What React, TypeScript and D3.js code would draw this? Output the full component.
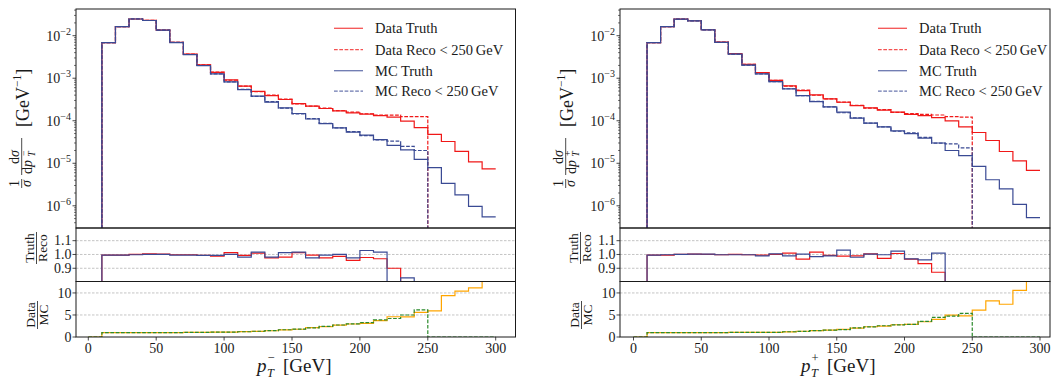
import React from 'react';
import * as d3 from 'd3';

// Bin edges (GeV): 0,10,...,300
const EDGES: number[] = d3.range(0, 301, 10);

// ---------- p_T^- (left) ----------
// truth values for bins 10-20 ... 290-300
const dataTruthMinus = [6.86e-3, 1.63e-2, 2.47e-2, 2.3e-2, 1.36e-2, 7.0e-3, 3.7e-3, 2.05e-3, 1.38e-3, 9.1e-4, 6.5e-4, 4.9e-4, 3.9e-4, 3.16e-4, 2.54e-4, 2.2e-4, 1.94e-4, 1.7e-4, 1.53e-4, 1.43e-4, 1.32e-4, 1.22e-4, 9.8e-5, 6.9e-5, 4.8e-5, 3.25e-5, 1.9e-5, 1.08e-5, 7.4e-6];
const mcTruthMinus = [6.86e-3, 1.63e-2, 2.47e-2, 2.28e-2, 1.35e-2, 6.9e-3, 3.6e-3, 1.98e-3, 1.26e-3, 8.2e-4, 5.4e-4, 3.8e-4, 2.75e-4, 2.0e-4, 1.48e-4, 1.1e-4, 8.6e-5, 6.8e-5, 5.4e-5, 4.6e-5, 3.6e-5, 2.63e-5, 2.07e-5, 1.23e-5, 7.9e-6, 3.36e-6, 1.8e-6, 9.7e-7, 5.5e-7];
// Truth / Reco ratio, bins 0-10 ... 240-250
const dataTRMinus = [0, 0.995, 0.995, 1.0, 1.005, 1.002, 0.998, 0.998, 0.993, 0.988, 1.014, 0.993, 1.01, 0.976, 0.981, 1.014, 0.995, 0.976, 0.986, 0.957, 0.978, 0.969, 0.9, 0.78, 0.55];
const mcTRMinus = [0, 0.995, 0.995, 0.998, 1.0, 1.0, 0.995, 0.995, 0.993, 0.993, 1.0, 0.981, 1.017, 0.981, 1.014, 1.017, 0.976, 0.995, 1.0, 0.976, 1.029, 1.017, 0.79, 0.831, 0.615];
// Data / MC ratio, bins 0-10 ... 290-300
const dmTruthMinus = [0, 1.0, 1.0, 1.0, 1.01, 1.01, 1.01, 1.03, 1.04, 1.09, 1.12, 1.2, 1.29, 1.42, 1.6, 1.76, 2.14, 2.37, 2.7, 2.95, 3.1, 3.7, 4.6, 4.55, 5.6, 5.95, 9.4, 10.4, 11.15, 13.5];
const dmRecoMinus = [0, 1.0, 1.0, 1.0, 1.01, 1.01, 1.01, 1.03, 1.04, 1.1, 1.1, 1.19, 1.3, 1.43, 1.65, 1.77, 2.08, 2.42, 2.73, 2.99, 3.26, 3.88, 4.2, 5.0, 6.15, 0, 0, 0, 0, 0];

// ---------- p_T^+ (right) ----------
const dataTruthPlus = [6.86e-3, 1.63e-2, 2.46e-2, 2.25e-2, 1.38e-2, 7.1e-3, 3.8e-3, 2.12e-3, 1.35e-3, 8.9e-4, 6.6e-4, 5.1e-4, 4.05e-4, 3.26e-4, 2.72e-4, 2.28e-4, 2.0e-4, 1.77e-4, 1.59e-4, 1.42e-4, 1.32e-4, 1.19e-4, 9.9e-5, 7.2e-5, 5.3e-5, 3.43e-5, 1.89e-5, 1.14e-5, 6.8e-6];
const mcTruthPlus = [6.86e-3, 1.63e-2, 2.46e-2, 2.24e-2, 1.37e-2, 7.0e-3, 3.7e-3, 2.03e-3, 1.26e-3, 8.3e-4, 5.6e-4, 3.9e-4, 2.82e-4, 2.11e-4, 1.59e-4, 1.15e-4, 8.8e-5, 7.2e-5, 5.8e-5, 5.0e-5, 3.9e-5, 3.0e-5, 2.0e-5, 1.52e-5, 8.5e-6, 4.1e-6, 2.5e-6, 1.08e-6, 5.3e-7];
const dataTRPlus = [0, 0.995, 0.995, 1.0, 1.002, 1.0, 0.998, 1.0, 0.998, 0.995, 1.0, 1.01, 0.966, 1.017, 0.993, 0.988, 0.99, 1.005, 0.971, 1.007, 0.966, 0.934, 0.871, 0.79, 0.59];
const mcTRPlus = [0, 0.995, 0.998, 1.0, 1.002, 1.002, 0.998, 0.998, 0.998, 0.99, 1.005, 0.99, 1.002, 0.985, 0.99, 1.032, 0.98, 1.002, 0.998, 1.024, 0.968, 0.961, 1.01, 0.7, 0.66];
const dmTruthPlus = [0, 1.0, 1.0, 1.0, 1.0, 1.01, 1.01, 1.03, 1.04, 1.07, 1.07, 1.18, 1.31, 1.44, 1.55, 1.73, 2.03, 2.33, 2.48, 2.78, 2.86, 3.46, 3.98, 4.96, 4.8, 6.1, 8.2, 7.44, 10.6, 12.9];
const dmRecoPlus = [0, 1.0, 1.0, 1.0, 1.0, 1.01, 1.01, 1.03, 1.04, 1.07, 1.07, 1.19, 1.27, 1.46, 1.56, 1.66, 2.05, 2.31, 2.55, 2.75, 2.87, 3.56, 4.45, 4.75, 5.35, 0, 0, 0, 0, 0];

const xTicks = [0, 50, 100, 150, 200, 250, 300];
const logTicks = [-6, -5, -4, -3, -2];
const trTicks = [0.9, 1.0, 1.1];
const dmTicks = [0, 5, 10];
const legendLabels = ['Data Truth', 'Data Reco < 250\u2009GeV', 'MC Truth', 'MC Reco < 250\u2009GeV'];

const W = 1051, H = 381;
const TOP = 9, MAIN_B = 228, R1_B = 281.5, R2_B = 337;
const FONT = '"Liberation Serif", "DejaVu Serif", serif';
const RED = '#f01818';
const BLUE = '#3a4a94';
const ORANGE = '#ffa500';
const GREEN = '#2a8a2a';
const DASH = '3.7,1.6';

type Scale = (v: number) => number;

function stepD(vals: number[], x: Scale, ymap: Scale): string {
  let d = '';
  vals.forEach((v, i) => {
    const py = ymap(v);
    d += i === 0 ? `M${x(EDGES[i])},${py}` : `V${py}`;
    d += `H${x(EDGES[i + 1])}`;
  });
  return d;
}

interface PanelProps {
  id: string;
  left: number;
  right: number;
  zero: number;
  k: number;
  sign: string;
  xlabStart: number;
  dataTruth: number[];
  mcTruth: number[];
  dataTR: number[];
  mcTR: number[];
  dmTruth: number[];
  dmReco: number[];
}

function Panel(p: PanelProps) {
  const x = d3.scaleLinear().domain([(p.left - p.zero) / p.k, (p.right - p.zero) / p.k]).range([p.left, p.right]);
  const yMain = d3.scaleLog().domain([Math.pow(10, -6.522), Math.pow(10, -1.372)]).range([MAIN_B, TOP]);
  const yR1 = d3.scaleLinear().domain([0.804, 1.192]).range([R1_B, MAIN_B]);
  const yR2 = d3.scaleLinear().domain([0, 12.6]).range([R2_B, R1_B]);
  const ymapLog = (v: number) => (v > 0 ? yMain(v) : MAIN_B + 40);

  const dataTruthVals = [0, ...p.dataTruth];
  const mcTruthVals = [0, ...p.mcTruth];
  const dataRecoVals = [0, ...p.dataTruth.slice(0, 24).map((v, i) => v / p.dataTR[i + 1]), 0];
  const mcRecoVals = [0, ...p.mcTruth.slice(0, 24).map((v, i) => v / p.mcTR[i + 1]), 0];

  const minor: number[] = [];
  for (let e = -7; e <= -2; e++) {
    for (let m = 2; m <= 9; m++) {
      const v = m * Math.pow(10, e);
      if (v > Math.pow(10, -6.522) && v < Math.pow(10, -1.372)) minor.push(v);
    }
  }

  const w = p.right - p.left;
  const tickFs = 14;

  return (
    <g fontFamily={FONT} fill="#1a1a1a">
      <defs>
        <clipPath id={`${p.id}-cm`}><rect x={p.left} y={TOP} width={w} height={MAIN_B - TOP} /></clipPath>
        <clipPath id={`${p.id}-c1`}><rect x={p.left} y={MAIN_B} width={w} height={R1_B - MAIN_B} /></clipPath>
        <clipPath id={`${p.id}-c2`}><rect x={p.left} y={R1_B} width={w} height={R2_B - R1_B} /></clipPath>
      </defs>

      {/* grid lines in ratio panels */}
      {trTicks.map((t) => (
        <line key={`g1${t}`} x1={p.left} x2={p.right} y1={yR1(t)} y2={yR1(t)} stroke="#b5b5b5" strokeWidth={0.8} strokeDasharray="2.5,1.5" />
      ))}
      {[5, 10].map((t) => (
        <line key={`g2${t}`} x1={p.left} x2={p.right} y1={yR2(t)} y2={yR2(t)} stroke="#b5b5b5" strokeWidth={0.8} strokeDasharray="2.5,1.5" />
      ))}

      {/* main panel */}
      <g clipPath={`url(#${p.id}-cm)`} fill="none" strokeWidth={1.2}>
        <path d={stepD(dataTruthVals, x, ymapLog)} stroke={RED} />
        <path d={stepD(dataRecoVals, x, ymapLog)} stroke={RED} strokeDasharray={DASH} />
        <path d={stepD(mcTruthVals, x, ymapLog)} stroke={BLUE} />
        <path d={stepD(mcRecoVals, x, ymapLog)} stroke={BLUE} strokeDasharray={DASH} />
      </g>

      {/* truth / reco */}
      <g clipPath={`url(#${p.id}-c1)`} fill="none" strokeWidth={1.2}>
        <path d={stepD(p.dataTR, x, yR1)} stroke={RED} />
        <path d={stepD(p.mcTR, x, yR1)} stroke={BLUE} />
      </g>

      {/* data / mc */}
      <g clipPath={`url(#${p.id}-c2)`} fill="none" strokeWidth={1.2}>
        <path d={stepD(p.dmTruth, x, yR2)} stroke={ORANGE} />
        <path d={stepD(p.dmReco, x, yR2)} stroke={GREEN} strokeDasharray={DASH} />
      </g>

      {/* frames */}
      <g fill="none" stroke="#1a1a1a" strokeWidth={1}>
        <rect x={p.left} y={TOP} width={w} height={MAIN_B - TOP} />
        <rect x={p.left} y={MAIN_B} width={w} height={R1_B - MAIN_B} />
        <rect x={p.left} y={R1_B} width={w} height={R2_B - R1_B} />
      </g>

      {/* log y ticks */}
      {logTicks.map((e) => {
        const yy = yMain(Math.pow(10, e));
        return (
          <g key={`lt${e}`}>
            <line x1={p.left - 3.5} x2={p.left} y1={yy} y2={yy} stroke="#1a1a1a" strokeWidth={0.8} />
            <text x={p.left - 5} y={yy + 5} textAnchor="end" fontSize={tickFs}>
              10<tspan fontSize={10} dy={-6}>{`\u2212${-e}`}</tspan>
            </text>
          </g>
        );
      })}
      {minor.map((v, i) => (
        <line key={`mn${i}`} x1={p.left - 2} x2={p.left} y1={yMain(v)} y2={yMain(v)} stroke="#1a1a1a" strokeWidth={0.6} />
      ))}

      {/* ratio y ticks */}
      {trTicks.map((t) => (
        <g key={`tt${t}`}>
          <line x1={p.left - 3.5} x2={p.left} y1={yR1(t)} y2={yR1(t)} stroke="#1a1a1a" strokeWidth={0.8} />
          <text x={p.left - 4.5} y={yR1(t) + 4.6} textAnchor="end" fontSize={tickFs}>{t.toFixed(1)}</text>
        </g>
      ))}
      {dmTicks.map((t) => (
        <g key={`dt${t}`}>
          <line x1={p.left - 3.5} x2={p.left} y1={yR2(t)} y2={yR2(t)} stroke="#1a1a1a" strokeWidth={0.8} />
          <text x={p.left - 4.5} y={yR2(t) + 4.6} textAnchor="end" fontSize={tickFs}>{String(t)}</text>
        </g>
      ))}

      {/* x ticks */}
      {xTicks.map((t) => (
        <g key={`xt${t}`}>
          <line x1={x(t)} x2={x(t)} y1={R2_B} y2={R2_B + 3.5} stroke="#1a1a1a" strokeWidth={0.8} />
          <text x={x(t)} y={352.5} textAnchor="middle" fontSize={tickFs}>{String(t)}</text>
        </g>
      ))}

      {/* x label */}
      <g fontSize={19}>
        <text x={p.xlabStart} y={372} fontStyle="italic">p</text>
        <text x={p.xlabStart + 10} y={376.5} fontSize={12.5} fontStyle="italic">T</text>
        <text x={p.xlabStart + 10.5} y={361.5} fontSize={12.5}>{p.sign}</text>
        <text x={p.xlabStart + 26} y={372}>[GeV]</text>
      </g>

      {/* main y label */}
      <g transform={`translate(${p.left - 54.3},126) rotate(-90)`}>
        <text x={-57.5} y={-3} textAnchor="middle" fontSize={14}>1</text>
        <line x1={-62} x2={-53} y1={0} y2={0} stroke="#1a1a1a" strokeWidth={0.8} />
        <text x={-57.5} y={9.5} textAnchor="middle" fontSize={14} fontStyle="italic">σ</text>
        <text x={-31} y={-3} textAnchor="middle" fontSize={14}>d<tspan fontStyle="italic">σ</tspan></text>
        <line x1={-49} x2={-12} y1={0} y2={0} stroke="#1a1a1a" strokeWidth={0.8} />
        <text x={-48} y={10} fontSize={14}>d<tspan fontStyle="italic">p</tspan></text>
        <text x={-30.5} y={13.5} fontSize={9.5} fontStyle="italic">T</text>
        <text x={-30} y={4.8} fontSize={9.5}>{p.sign}</text>
        <text x={-1} y={7} fontSize={18}>[GeV<tspan fontSize={11.5} dy={-7.5}>{'\u22121'}</tspan><tspan dy={7.5}>]</tspan></text>
      </g>

      {/* Truth / Reco label */}
      <g transform={`translate(${p.left - 39.5},248) rotate(-90)`} fontSize={13.5}>
        <text x={0} y={-2.5} textAnchor="middle">Truth</text>
        <line x1={-16} x2={16} y1={0} y2={0} stroke="#1a1a1a" strokeWidth={0.8} />
        <text x={0} y={10.5} textAnchor="middle">Reco</text>
      </g>

      {/* Data / MC label */}
      <g transform={`translate(${p.left - 38.5},315) rotate(-90)`} fontSize={13.5}>
        <text x={0} y={-2.5} textAnchor="middle">Data</text>
        <line x1={-14} x2={14} y1={0} y2={0} stroke="#1a1a1a" strokeWidth={0.8} />
        <text x={0} y={10.5} textAnchor="middle">MC</text>
      </g>

      {/* legend */}
      {legendLabels.map((lab, i) => {
        const yy = [28.3, 49.6, 70.7, 91.2][i];
        const col = i < 2 ? RED : BLUE;
        const dashed = i % 2 === 1;
        return (
          <g key={`lg${i}`}>
            <line x1={p.left + 258} x2={p.left + 287} y1={yy} y2={yy} stroke={col} strokeOpacity={0.75} strokeWidth={1.3} strokeDasharray={dashed ? DASH : undefined} />
            <text x={p.left + 299} y={yy + 5} fontSize={14.5}>{lab}</text>
          </g>
        );
      })}
    </g>
  );
}

export default function App() {
  return (
    <svg width={W} height={H} viewBox={`0 0 ${W} ${H}`} style={{ position: 'absolute', left: 0, top: 0, background: '#fff' }}>
      <rect x={0} y={0} width={W} height={H} fill="#fff" />
      <Panel id="pm" left={76} right={515.5} zero={88.3} k={1.358} sign={'\u2212'} xlabStart={257}
        dataTruth={dataTruthMinus} mcTruth={mcTruthMinus} dataTR={dataTRMinus} mcTR={mcTRMinus}
        dmTruth={dmTruthMinus} dmReco={dmRecoMinus} />
      <Panel id="pp" left={620} right={1050} zero={633.5} k={1.355} sign="+" xlabStart={801}
        dataTruth={dataTruthPlus} mcTruth={mcTruthPlus} dataTR={dataTRPlus} mcTR={mcTRPlus}
        dmTruth={dmTruthPlus} dmReco={dmRecoPlus} />
    </svg>
  );
}
